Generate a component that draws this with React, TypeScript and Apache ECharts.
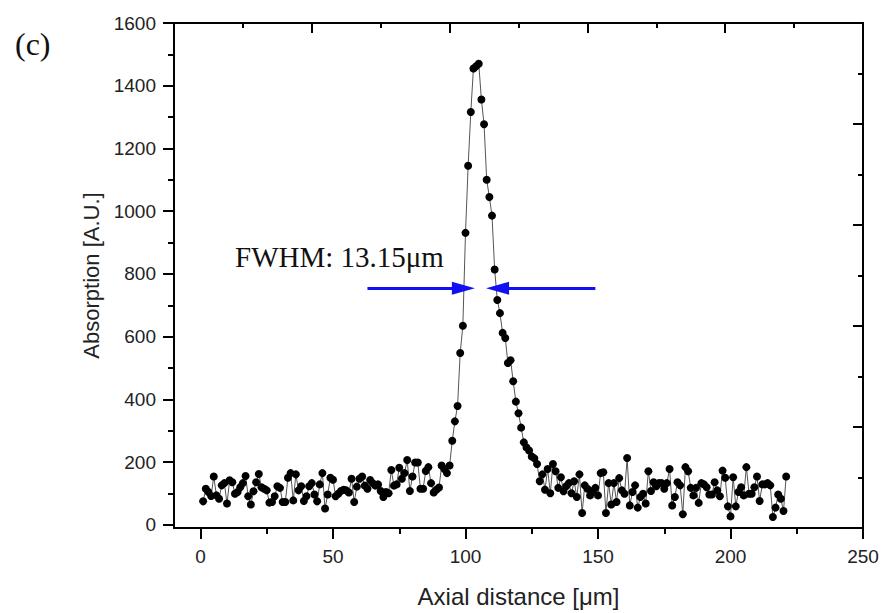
import React, { useEffect, useRef } from "react";
import * as echarts from "echarts";

// Axial distance (µm) and absorption (A.U.)
const xValues: number[] = Array.from({ length: 221 }, (_, i) => i + 1);
const yValues: number[] = [
  75, 115, 105, 92, 154, 94, 83, 126, 133, 68,
  142, 136, 99, 105, 120, 133, 156, 91, 65, 107,
  136, 162, 120, 115, 110, 71, 73, 91, 123, 118,
  73, 73, 150, 165, 78, 161, 110, 123, 76, 91,
  123, 133, 97, 75, 129, 165, 52, 97, 150, 144,
  91, 99, 108, 112, 110, 103, 147, 73, 122, 147,
  154, 125, 115, 143, 133, 125, 129, 108, 89, 105,
  101, 175, 125, 129, 182, 147, 165, 207, 108, 154,
  199, 199, 115, 115, 172, 184, 133, 103, 112, 119,
  189, 178, 165, 189, 268, 330, 379, 548, 635, 931,
  1145, 1316, 1455, 1462, 1470, 1356, 1277, 1100, 1045, 986,
  814, 717, 675, 612, 596, 516, 525, 458, 393, 356,
  310, 263, 247, 237, 218, 212, 194, 139, 161, 112,
  178, 101, 194, 171, 118, 152, 107, 123, 133, 101,
  139, 89, 161, 38, 126, 115, 94, 108, 118, 94,
  165, 168, 38, 133, 65, 133, 73, 149, 110, 99,
  213, 62, 105, 126, 55, 89, 99, 68, 171, 108,
  136, 123, 133, 133, 115, 133, 178, 62, 89, 136,
  126, 34, 184, 171, 118, 94, 118, 70, 133, 129,
  120, 97, 97, 136, 110, 91, 173, 150, 59, 27,
  152, 59, 105, 120, 94, 184, 99, 99, 120, 154,
  76, 129, 129, 133, 126, 25, 55, 97, 83, 44,
  154,
];

const xTickLabels: number[] = [0, 50, 100, 150, 200, 250];
const xMinorTicks: number[] = [25, 75, 125, 175, 225];
const yTickLabels: number[] = [0, 200, 400, 600, 800, 1000, 1200, 1400, 1600];
const yMinorTicks: number[] = [100, 300, 500, 700, 900, 1100, 1300, 1500];

// FWHM annotation (data coordinates)
const fwhmLevel = 754;
const leftArrow: number[] = [63, 99.2]; // tail, tip
const rightArrow: number[] = [149, 112.1]; // tail, tip
const fwhmText = "FWHM: 13.15\u03bcm";

const BLUE = "#1010f0";

export default function App() {
  const ref = useRef<HTMLDivElement>(null);

  useEffect(() => {
    document.body.style.margin = "0";
    if (!ref.current) return;
    const chart = echarts.init(ref.current, undefined, { renderer: "svg" });
    const data = xValues.map((x, i) => [x, yValues[i]]);
    const axisLine = { show: true, onZero: false, lineStyle: { color: "#000", width: 2 } };
    const noLine = { show: false, onZero: false };
    const sans = "Arial, 'Liberation Sans', Helvetica, sans-serif";
    const serif = "'Times New Roman', 'Liberation Serif', serif";
    const plain = (v: number) => String(v);

    chart.setOption({
      animation: false,
      backgroundColor: "#fff",
      grid: { left: 174, top: 23, width: 689, height: 508, containLabel: false },
      xAxis: [
        {
          type: "value",
          min: -10,
          max: 250,
          position: "bottom",
          axisLine,
          axisTick: { show: true, inside: false, length: 11, lineStyle: { width: 2, color: "#000" }, customValues: xTickLabels },
          axisLabel: { show: true, customValues: xTickLabels, formatter: plain, fontSize: 19, fontFamily: sans, color: "#222", margin: 19 },
          splitLine: { show: false },
          name: "Axial distance [\u03bcm]",
          nameLocation: "middle",
          nameGap: 56,
          nameTextStyle: { fontSize: 24, fontFamily: sans, color: "#222" },
        },
        {
          type: "value",
          min: -10,
          max: 250,
          position: "bottom",
          axisLine: noLine,
          axisTick: { show: true, length: 6, lineStyle: { width: 2, color: "#000" }, customValues: xMinorTicks },
          axisLabel: { show: false },
          splitLine: { show: false },
        },
        {
          type: "value",
          min: 0,
          max: 5,
          interval: 1,
          position: "top",
          axisLine,
          axisTick: { show: true, inside: true, length: 10, lineStyle: { width: 2, color: "#000" } },
          minorTick: { show: true, splitNumber: 2, length: 5, lineStyle: { width: 2, color: "#000" } },
          axisLabel: { show: false },
          splitLine: { show: false },
        },
      ],
      yAxis: [
        {
          type: "value",
          min: -10,
          max: 1600,
          position: "left",
          axisLine,
          axisTick: { show: true, inside: false, length: 11, lineStyle: { width: 2, color: "#000" }, customValues: yTickLabels },
          axisLabel: { show: true, customValues: yTickLabels, formatter: plain, fontSize: 19, fontFamily: sans, color: "#222", margin: 18 },
          splitLine: { show: false },
          name: "Absorption [A.U.]",
          nameLocation: "middle",
          nameGap: 72,
          nameTextStyle: { fontSize: 22, fontFamily: sans, color: "#222" },
        },
        {
          type: "value",
          min: -10,
          max: 1600,
          position: "left",
          axisLine: noLine,
          axisTick: { show: true, length: 6, lineStyle: { width: 2, color: "#000" }, customValues: yMinorTicks },
          axisLabel: { show: false },
          splitLine: { show: false },
        },
        {
          type: "value",
          min: 0,
          max: 5,
          interval: 1,
          position: "right",
          axisLine,
          axisTick: { show: true, inside: true, length: 10, lineStyle: { width: 2, color: "#000" } },
          minorTick: { show: true, splitNumber: 2, length: 5, lineStyle: { width: 2, color: "#000" } },
          axisLabel: { show: false },
          splitLine: { show: false },
        },
      ],
      series: [
        {
          type: "line",
          xAxisIndex: 0,
          yAxisIndex: 0,
          data,
          symbol: "circle",
          symbolSize: 8,
          showSymbol: true,
          itemStyle: { color: "#000" },
          lineStyle: { color: "#555", width: 1 },
          z: 3,
          markLine: {
            silent: true,
            animation: false,
            label: { show: false },
            lineStyle: { color: BLUE, width: 3, type: "solid" },
            data: [
              [
                { coord: [leftArrow[0], fwhmLevel], symbol: "none" },
                { coord: [leftArrow[1], fwhmLevel], symbol: "triangle", symbolSize: [13, 23] },
              ],
              [
                { coord: [rightArrow[0], fwhmLevel], symbol: "none" },
                { coord: [rightArrow[1], fwhmLevel], symbol: "triangle", symbolSize: [13, 23] },
              ],
            ],
          },
        },
      ],
      graphic: [
        {
          type: "text",
          left: 15,
          top: 28,
          style: { text: "(c)", fontSize: 32, fontFamily: serif, fill: "#111" },
        },
        {
          type: "text",
          x: 235,
          y: 257,
          style: { text: fwhmText, fontSize: 29, fontFamily: serif, fill: "#111", verticalAlign: "middle" },
        },
      ],
    });
    return () => chart.dispose();
  }, []);

  return <div ref={ref} style={{ width: 884, height: 613 }} />;
}
